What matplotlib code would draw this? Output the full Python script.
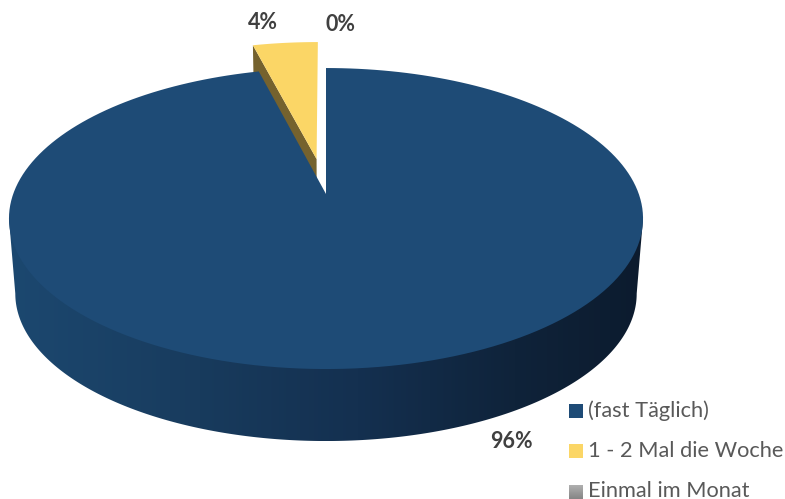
import numpy as np
import matplotlib
matplotlib.use("Agg")
import matplotlib.pyplot as plt
from matplotlib.colors import LinearSegmentedColormap
from matplotlib.patches import Polygon, Rectangle

categories = ["(fast Täglich)", "1 - 2 Mal die Woche", "Einmal im Monat"]
values = [96, 4, 0]
pct_labels = ["96%", "4%", "0%"]

top_colors = ["#1e4b76", "#fbd666", "#a5a5a5"]
cut_color = "#75622e"
rim_cmap = LinearSegmentedColormap.from_list(
    "rim", [(0, "#1c4870"), (0.3, "#183b5d"), (0.55, "#143050"), (0.8, "#0f233a"), (1, "#0c1b2e")])

# perspective of the disc, in pixels of the picture
apex_x, apex_y = 326, 194
scale_x, scale_y, persp = 312.8, 146.5, 0.163
depth, bottom_scale = 75.5, 0.98
explode = 0.25


def project(u, v, bottom=False):
    w = 1 + persp * v
    s = bottom_scale if bottom else 1
    y0 = apex_y + depth if bottom else apex_y
    return apex_x + s * scale_x * u / w, y0 - s * scale_y * v / w


def wedge(start, end, shift=(0, 0), bottom=False):
    t = np.radians(np.linspace(start, end, 200))
    u = np.r_[0, np.sin(t)] + shift[0]
    v = np.r_[0, np.cos(t)] + shift[1]
    return np.column_stack(project(u, v, bottom))


def gradient(ax, cmap, extent, clip, vertical=False):
    g = np.linspace(0, 1, 256).reshape(-1, 1) if vertical else np.linspace(0, 1, 256).reshape(1, -1)
    im = ax.imshow(g, cmap=cmap, extent=extent, aspect="auto", zorder=1)
    im.set_clip_path(clip)


fig = plt.figure(figsize=(7.85, 4.99), dpi=100)
ax = fig.add_axes([0, 0, 1, 1])
plt.rcParams["font.family"] = ["Lato", "DejaVu Sans"]

# slice angles, clockwise from 12 o'clock
edges = np.r_[0, np.cumsum(values)] / sum(values) * 360

# rim of the big slice, runs under the top face so no seam shows
left_t = 360 - np.degrees(np.arccos(-persp))
right_t = np.degrees(np.arccos(-persp))
t = np.radians(np.linspace(right_t, left_t, 300))
bx, by = project(np.sin(t), np.cos(t), bottom=True)
lx, ly = project(np.sin(t[-1]), np.cos(t[-1]))
rx, ry = project(np.sin(t[0]), np.cos(t[0]))
rim = Polygon(np.column_stack([np.r_[rx, bx, lx, apex_x], np.r_[ry, by, ly, apex_y + 40]]),
              transform=ax.transData, fc="none", ec="none")
ax.add_patch(rim)
gradient(ax, rim_cmap, [9, 643, 441, 218], rim)

# pulled out slice: cut face first, then its top
mid = np.radians((edges[1] + edges[2]) / 2)
shift = (np.sin(mid) * explode, np.cos(mid) * explode)
top_y = wedge(edges[1], edges[2], shift)
bot_y = wedge(edges[1], edges[2], shift, bottom=True)
ax.add_patch(Polygon(np.vstack([top_y[:2], bot_y[1::-1]]), fc=cut_color, ec="none", zorder=2))
ax.add_patch(Polygon(top_y, fc=top_colors[1], ec="none", zorder=3))

# top of the big slice
ax.add_patch(Polygon(wedge(edges[0], edges[1]), fc=top_colors[0], ec="none", zorder=4))

# percentages
label_pos = [(511, 442), (263, 22), (340, 24)]
for txt, (x, y) in zip(pct_labels, label_pos):
    ax.text(x, y, txt, fontsize=15.5, fontweight="bold", color="#404040", ha="center", va="center", zorder=5)

# legend
legend_y = [411, 451, 492]
legend_base = [417, 457, 497]
for name, col, y, base in zip(categories, top_colors, legend_y, legend_base):
    if col == top_colors[2]:
        box = Rectangle((569, y - 7), 14, 14, fc="none", ec="none", transform=ax.transData)
        ax.add_patch(box)
        gradient(ax, LinearSegmentedColormap.from_list("g", ["#b0b0b0", "#858585"]),
                 [569, 583, y + 7, y - 7], box, vertical=True)
    else:
        ax.add_patch(Rectangle((569, y - 7), 14, 14, fc=col, ec="none", zorder=5))
    ax.text(588, base, name, fontsize=15.7, color="#595959", ha="left", va="baseline", zorder=5)

ax.set_xlim(0, 785)
ax.set_ylim(499, 0)
ax.axis("off")
fig.savefig("out.png", dpi=100)
